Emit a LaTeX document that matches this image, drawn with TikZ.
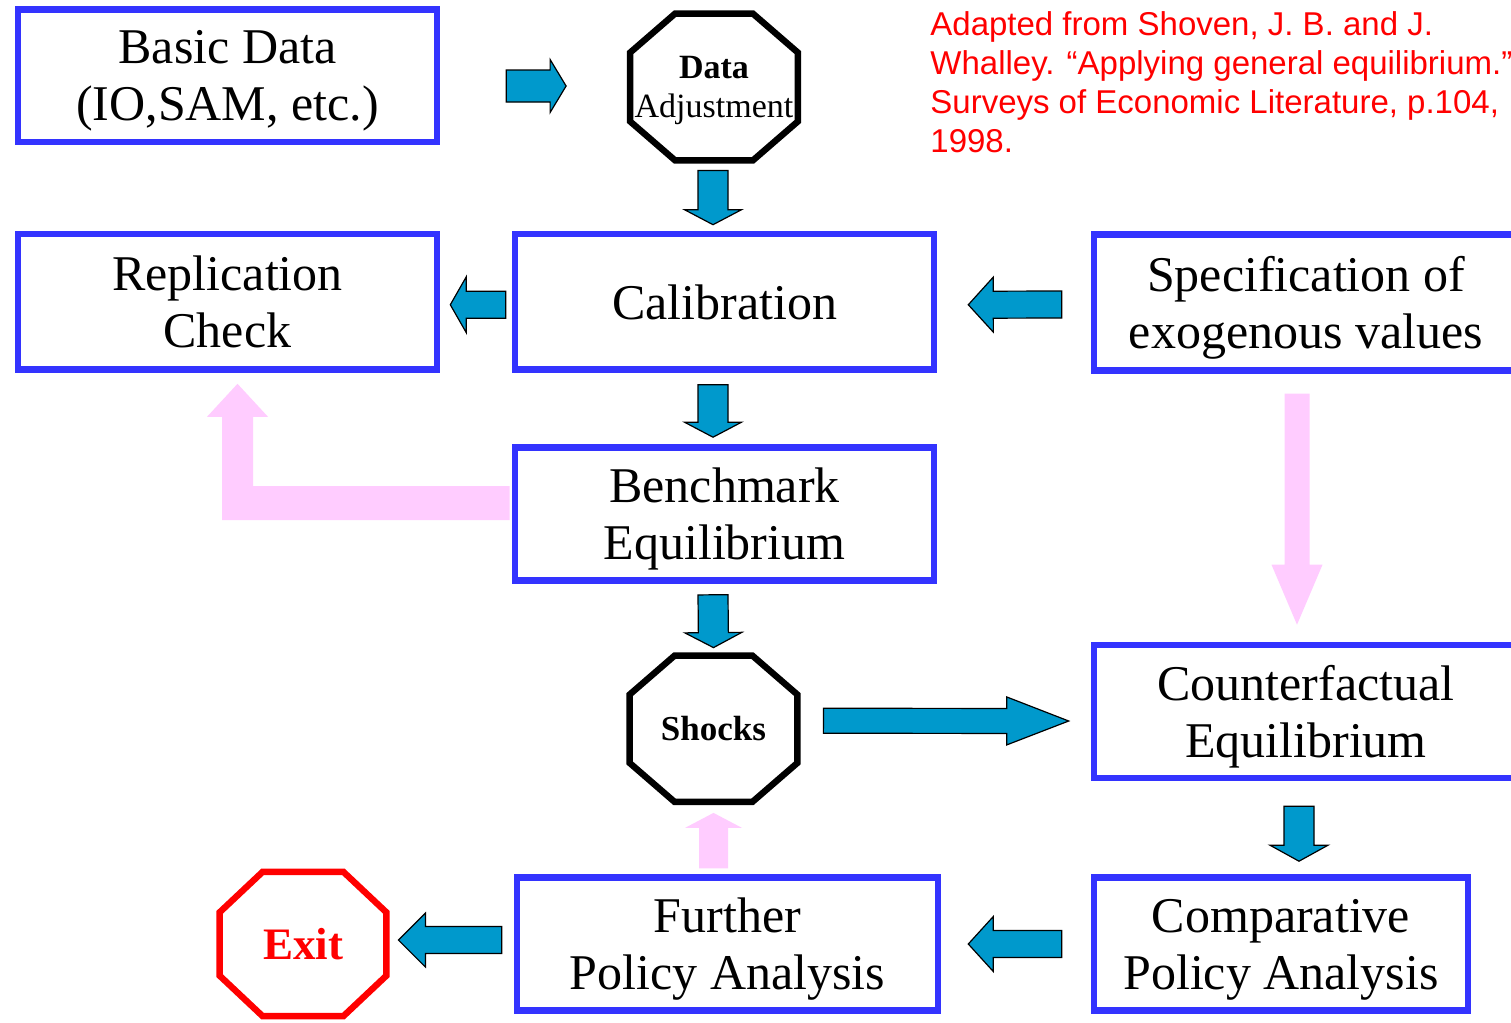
\documentclass[tikz,border=0pt]{standalone}
\usepackage{fontspec}
\setmainfont{Liberation Serif}
\newfontfamily\citefont{Liberation Sans}
\usetikzlibrary{calc}
\pgfdeclarelayer{background}
\pgfsetlayers{background,main}
\definecolor{boxblue}{HTML}{3333FF}
\definecolor{arrowblue}{HTML}{0099CC}
\definecolor{arrowpink}{HTML}{FFCCFF}
\definecolor{citered}{HTML}{FF0000}
% block arrow: #1 style, #2 start coord, #3 tip coord, #4 shaft half width, #5 head half width, #6 head length
\newcommand\blockarrow[6]{%
  \coordinate (bahead) at ($(#3)!#6!(#2)$);
  \path[#1] ($(#2)!#4!90:(#3)$) -- ($(bahead)!#4!-90:(#2)$) -- ($(bahead)!#5!-90:(#2)$) -- (#3)
    -- ($(bahead)!#5!90:(#2)$) -- ($(bahead)!#4!90:(#2)$) -- ($(#2)!#4!-90:(#3)$) -- cycle;}
% octagon around a node: #1 node name, #2 style, #3 x chamfer, #4 y chamfer
\newcommand\octagon[4]{%
  \draw[#2] ($(#1.north west)+(#3,0)$) -- ($(#1.north east)+(-#3,0)$) -- ($(#1.north east)+(0,#4)$)
    -- ($(#1.south east)+(0,-#4)$) -- ($(#1.south east)+(-#3,0)$) -- ($(#1.south west)+(#3,0)$)
    -- ($(#1.south west)+(0,-#4)$) -- ($(#1.north west)+(0,#4)$) -- cycle;}
\begin{document}
\begin{tikzpicture}[x=0.5pt,y=-0.5pt,
  flowbox/.style={draw=boxblue, line width=3.3pt, inner sep=0pt, align=center, text depth=0pt,
    minimum width=209.5pt, minimum height=66pt, font=\fontsize{25}{28.5}\selectfont},
  octnode/.style={draw=none, inner sep=0pt, align=center, text depth=0pt, minimum width=83.5pt, minimum height=72.75pt},
  octline/.style={line width=3.2pt, line join=miter},
  bluearrow/.style={fill=arrowblue, draw=black, line width=0.6pt, line join=miter},
  pinkarrow/.style={fill=arrowpink, draw=none}]
\useasboundingbox (0,0) rectangle (1511,1023);
\clip (0,0) rectangle (1511,1023);

% boxes
\node[flowbox, minimum height=66.25pt] (bd) at (227.5,75.75) {Basic Data\\(IO,SAM, etc.)};
\node[flowbox, minimum height=67.75pt] (rc) at (227.5,301.75) {Replication\\Check};
\node[flowbox, minimum height=67.75pt] (cal) at (724.5,301.75) {Calibration};
\node[flowbox, minimum height=67.75pt, minimum width=212pt] (spec) at (1306,302.5) {Specification of\\exogenous values};
\node[flowbox, minimum height=66.5pt] (bench) at (724.5,514) {Benchmark\\Equilibrium};
\node[flowbox, minimum height=66.5pt, minimum width=212pt] (cf) at (1306,711.5) {Counterfactual\\Equilibrium};
\node[flowbox, minimum height=66.5pt, minimum width=187pt] (comp) at (1281,944) {Comparative\\Policy Analysis};
\node[flowbox, minimum height=66.25pt, minimum width=210.5pt] (fpa) at (727.5,944) {Further\\Policy Analysis};

% octagons
\node[octnode, minimum height=73pt, font=\fontsize{17}{19.5}\selectfont] (da) at (714,87) {\textbf{Data}\\Adjustment};
\octagon{da}{octline, draw=black}{45}{39}
\node[octnode, font=\fontsize{17.5}{20}\selectfont\bfseries] (shocks) at (713.5,728.75) {Shocks};
\octagon{shocks}{octline, draw=black}{45}{39}
\node[octnode, minimum width=83pt, minimum height=71.75pt, text=citered, font=\fontsize{22.5}{25}\selectfont\bfseries] (exit) at (303,944) {Exit};
\octagon{exit}{octline, draw=citered}{43}{40.5}

% citation
\node[anchor=north west, inner sep=0pt, align=left, text=citered,
  font=\citefont\fontsize{16.5}{19.5}\selectfont] (cite) at (930,11)
  {Adapted from Shoven, J. B. and J.\\Whalley. “Applying general equilibrium.”\\Surveys of Economic Literature, p.104,\\1998.};

% connectors
\begin{pgfonlayer}{background}
\fill[white] (0,0) rectangle (1511,1023);
% Basic Data -> Data Adjustment
\coordinate (a1s) at ($(bd.east |- da.center)+(66,-1)$);
\coordinate (a1e) at ($(da.west)+(-64,-1)$);
\blockarrow{bluearrow}{a1s}{a1e}{8pt}{13.25pt}{8pt}
% Data Adjustment -> Calibration
\coordinate (a2s) at ($(da.south)+(-1,10)$);
\coordinate (a2e) at ($(cal.north -| da.south)+(-1,-6)$);
\blockarrow{bluearrow}{a2s}{a2e}{7.5pt}{14.25pt}{7.5pt}
% Calibration -> Replication Check
\coordinate (a3s) at ($(cal.west)+(-6,3)$);
\coordinate (a3e) at ($(rc.east)+(10,3)$);
\blockarrow{bluearrow}{a3s}{a3e}{6.75pt}{14pt}{8pt}
% Specification -> Calibration
\coordinate (a4s) at ($(spec.west)+(-29,2)$);
\coordinate (a4e) at ($(cal.east)+(31,3)$);
\blockarrow{bluearrow}{a4s}{a4e}{6.75pt}{13.75pt}{12.5pt}
% Calibration -> Benchmark
\coordinate (a5s) at ($(cal.south -| da.south)+(-1,12)$);
\coordinate (a5e) at ($(bench.north -| da.south)+(-1,-7)$);
\blockarrow{bluearrow}{a5s}{a5e}{7.5pt}{14.25pt}{7.5pt}
% Benchmark -> Shocks
\coordinate (a6s) at ($(bench.south -| da.south)+(-1,11)$);
\coordinate (a6e) at ($(shocks.north)+(0,-8)$);
\blockarrow{bluearrow}{a6s}{a6e}{7.5pt}{14.25pt}{7.5pt}
% Shocks -> Counterfactual
\coordinate (a7s) at ($(shocks.east)+(26,-8)$);
\coordinate (a7e) at ($(cf.west)+(-22,9.5)$);
\blockarrow{bluearrow}{a7s}{a7e}{6.25pt}{12pt}{31pt}
% Counterfactual -> Comparative
\coordinate (a8s) at ($(cf.south)+(-7,25)$);
\coordinate (a8e) at ($(comp.north)+(18,-13)$);
\blockarrow{bluearrow}{a8s}{a8e}{7.5pt}{14.5pt}{8pt}
% Comparative -> Further
\coordinate (a9s) at ($(comp.west)+(-29,0)$);
\coordinate (a9e) at ($(fpa.east)+(27,0)$);
\blockarrow{bluearrow}{a9s}{a9e}{6.75pt}{13.75pt}{12.5pt}
% Further -> Exit
\coordinate (a10s) at ($(fpa.west)+(-12,-4)$);
\coordinate (a10e) at ($(exit.east)+(12,-4)$);
\blockarrow{bluearrow}{a10s}{a10e}{6.75pt}{13.5pt}{13.5pt}
% Specification -> Counterfactual (pink)
\coordinate (p1s) at ($(spec.south)+(-9,20)$);
\coordinate (p1e) at ($(cf.north)+(-9,-17)$);
\blockarrow{pinkarrow}{p1s}{p1e}{6.25pt}{12.75pt}{30pt}
% Further -> Shocks (pink)
\coordinate (p2s) at ($(fpa.north -| shocks.south)+(0,-6)$);
\coordinate (p2e) at ($(shocks.south)+(0,11)$);
\blockarrow{pinkarrow}{p2s}{p2e}{7.25pt}{14.25pt}{7.5pt}
% Benchmark -> Replication Check (pink, bent)
\coordinate (Ls) at ($(bench.west)+(-2,-11)$);
\coordinate (Le) at ($(rc.south)+(10,11)$);
\path[pinkarrow] ($(Ls)+(0,-17)$) -- ($(Le |- Ls)+(15.5,-17)$) -- ($(Le)+(15.5,33)$) -- ($(Le)+(30.5,33)$)
  -- (Le) -- ($(Le)+(-30.5,33)$) -- ($(Le)+(-15.5,33)$) -- ($(Le |- Ls)+(-15.5,17)$) -- ($(Ls)+(0,17)$) -- cycle;
\end{pgfonlayer}
\end{tikzpicture}
\end{document}
